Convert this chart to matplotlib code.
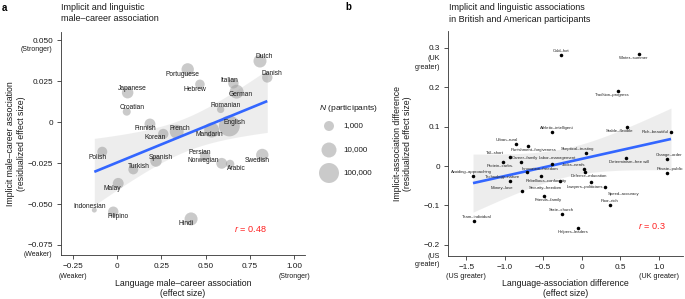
import numpy as np
import matplotlib
matplotlib.use("Agg")
import matplotlib.pyplot as plt

plt.rcParams['font.family'] = ['Liberation Sans', 'DejaVu Sans']
plt.rcParams['mathtext.fontset'] = 'custom'
plt.rcParams['mathtext.it'] = 'Liberation Sans:italic'
plt.rcParams['mathtext.rm'] = 'Liberation Sans'

# ---------------- Panel a data ----------------
languages = ['Dutch', 'Danish', 'Portuguese', 'Hebrew', 'Italian', 'German', 'Japanese',
             'Croatian', 'Romanian', 'English', 'Mandarin', 'French', 'Finnish', 'Korean',
             'Polish', 'Spanish', 'Turkish', 'Persian', 'Norwegian', 'Arabic', 'Swedish',
             'Malay', 'Indonesian', 'Filipino', 'Hindi']
lang_x = [0.807, 0.848, 0.399, 0.468, 0.657, 0.675, 0.060, 0.055, 0.585, 0.634, 0.534, 0.337,
          0.186, 0.261, -0.083, 0.220, 0.092, 0.497, 0.591, 0.638, 0.820, 0.007, -0.128,
          -0.021, 0.418]
lang_y = [0.0372, 0.0272, 0.0321, 0.0230, 0.0236, 0.0185, 0.0179, 0.0063, 0.0077, -0.0024,
          -0.0049, -0.0059, -0.0012, -0.0073, -0.0181, -0.0238, -0.0289, -0.0207, -0.0252,
          -0.0256, -0.0201, -0.0374, -0.0537, -0.0547, -0.0591]
lang_n = [4000, 1200, 3000, 800, 1200, 6000, 2000, 400, 300, 150000, 10000, 6000, 1500, 1200,
          1000, 2000, 1000, 1200, 1500, 500, 3000, 1500, 100, 1200, 4000]

a_xticks = [-0.25, 0.0, 0.25, 0.50, 0.75, 1.00]
a_xticklabels = ['\u22120.25', '0', '0.25', '0.50', '0.75', '1.00']
a_yticks = [-0.075, -0.050, -0.025, 0.0, 0.025, 0.050]
a_yticklabels = ['\u22120.075', '\u22120.050', '\u22120.025', '0', '0.025', '0.050']
legend_n = [1000, 10000, 100000]
legend_labels = ['1,000', '10,000', '100,000']
a_r_value = '0.48'

# ---------------- Panel b data ----------------
iat_names = ['Cold–hot', 'Winter–summer', 'Tradition–progress', 'Athletic–intelligent',
             'Stable–flexible', 'Rich–beautiful', 'Urban–rural', 'Punishment–forgiveness',
             'Skeptical–trusting', 'Tall–short', 'Career–family', 'Protein–carbs.',
             'Labor–management', 'Determinism–free will', 'Change–order', 'Private–public',
             'Jocks–nerds', 'Defense–education', 'Innovation–freedom', 'Avoiding–approaching',
             'Technology–nature', 'Rebellious–conformity', 'Security–freedom', 'Money–love',
             'Lawyers–politicians', 'Speed–accuracy', 'Friends–family', 'Poor–rich',
             'State–church', 'Team–individual', 'Helpers–leaders']
iat_x = [-0.273, 0.744, 0.467, -0.381, 0.588, 1.160, -0.853, -0.701, 0.056, -0.935, -0.792,
         -1.018, -0.386, 0.575, 1.112, 1.104, 0.034, 0.043, -0.706, -1.412, -0.935, -0.533,
         -0.282, -0.779, 0.118, 0.303, -0.486, 0.372, -0.252, -1.403, -0.044]
iat_y = [0.280, 0.285, 0.190, 0.085, 0.098, 0.086, 0.057, 0.051, 0.034, 0.024, 0.009, 0.010,
         0.005, 0.021, 0.019, -0.017, -0.008, -0.016, -0.014, -0.025, -0.038, -0.025, -0.039,
         -0.064, -0.041, -0.052, -0.076, -0.100, -0.122, -0.140, -0.157]

b_xticks = [-1.5, -1.0, -0.5, 0.0, 0.5, 1.0]
b_xticklabels = ['\u22121.5', '\u22121.0', '\u22120.5', '0', '0.5', '1.0']
b_yticks = [-0.2, -0.1, 0.0, 0.1, 0.2, 0.3]
b_yticklabels = ['\u22120.2', '\u22120.1', '0', '0.1', '0.2', '0.3']
b_r_value = '0.3'

# ---------------- styling (label offsets in pixels: right, down) ----------------
a_label_off = {
    'Dutch': (4, -5), 'Danish': (5, -4), 'Portuguese': (-5, 5), 'Hebrew': (-5, 5),
    'Italian': (-4, -3), 'German': (4, 3), 'Japanese': (5, -4), 'Croatian': (5, -4),
    'Romanian': (5, -4), 'English': (5, -3), 'Mandarin': (-2, 4), 'French': (3, -3),
    'Finnish': (-5, 5), 'Korean': (-8, 4), 'Polish': (-5, 6), 'Spanish': (5, -4),
    'Turkish': (5, -3), 'Persian': (-5, -3), 'Norwegian': (-18, -3), 'Arabic': (6, 5),
    'Swedish': (-5, 6), 'Malay': (-6, 5), 'Indonesian': (-5, -4), 'Filipino': (5, 5),
    'Hindi': (-5, 5)}
b_label_off = {
    'Cold–hot': (0, -4), 'Winter–summer': (-5, 4), 'Tradition–progress': (-5, 4),
    'Athletic–intelligent': (4, -4), 'Stable–flexible': (-7, 4), 'Rich–beautiful': (-16, 0),
    'Urban–rural': (-9, -4), 'Punishment–forgiveness': (6, 4), 'Skeptical–trusting': (-9, -4),
    'Tall–short': (-15, -4), 'Career–family': (4, -4), 'Protein–carbs.': (-3, 4),
    'Labor–management': (5, -6), 'Determinism–free will': (3, 4), 'Change–order': (2, -4),
    'Private–public': (3, -4), 'Jocks–nerds': (-11, -4), 'Defense–education': (4, 4),
    'Innovation–freedom': (13, -3), 'Avoiding–approaching': (-2, -4),
    'Technology–nature': (-7, -4), 'Rebellious–conformity': (6, 5),
    'Security–freedom': (-15, 7), 'Money–love': (-20, -3), 'Lawyers–politicians': (-6, 5),
    'Speed–accuracy': (19, 7), 'Friends–family': (4, 4), 'Poor–rich': (-1, -4),
    'State–church': (-1, -4), 'Team–individual': (3, -4), 'Helpers–leaders': (-5, 4)}

W, H = 685, 299
PX = 0.72  # points per pixel at dpi 100
TXT = '#1a1a1a'
GRID_C = '#333333'
BLUE = '#3366FF'
CIRC = '#a0a0a0'


def size_of(n):
    d_px = 10 + 5 * (np.log10(np.asarray(n, dtype=float)) - 3)
    return (d_px * PX) ** 2


def fit_band(x, y, t):
    x = np.asarray(x, float)
    y = np.asarray(y, float)
    n = len(x)
    b1, b0 = np.polyfit(x, y, 1)
    xs = np.linspace(x.min(), x.max(), 100)
    yh = b0 + b1 * xs
    s = np.sqrt(np.sum((y - (b0 + b1 * x)) ** 2) / (n - 2))
    sxx = np.sum((x - x.mean()) ** 2)
    se = s * np.sqrt(1.0 / n + (xs - x.mean()) ** 2 / sxx)
    return xs, yh, yh - t * se, yh + t * se


def style_axes(ax):
    for sp in ['top', 'right']:
        ax.spines[sp].set_visible(False)
    for sp in ['left', 'bottom']:
        ax.spines[sp].set_linewidth(0.6)
        ax.spines[sp].set_color(GRID_C)
    ax.tick_params(length=3.2, width=0.6, color=GRID_C, labelsize=5.9, labelcolor=TXT, pad=2.6)


fig = plt.figure(figsize=(W / 100, H / 100), dpi=100)

# ---------------- Panel a ----------------
axa = fig.add_axes([61 / W, 44 / H, 244 / W, 223 / H])
style_axes(axa)
axa.scatter(lang_x, lang_y, s=size_of(lang_n), color=CIRC, alpha=0.55, linewidths=0, zorder=2)
xs, yh, lo, hi = fit_band(lang_x, lang_y, 2.069)
axa.fill_between(xs, lo, hi, color='#999999', alpha=0.17, linewidth=0, zorder=3)
axa.plot(xs, yh, color=BLUE, lw=1.9, zorder=4, solid_capstyle='butt')
for name, x, y in zip(languages, lang_x, lang_y):
    dx, dy = a_label_off[name]
    axa.annotate(name, (x, y), xytext=(dx * PX, -dy * PX), textcoords='offset points',
                 ha='center', va='center', fontsize=4.8, color=TXT, zorder=5)
axa.set_xlim(-0.316, 1.061)
axa.set_ylim(-0.0811, 0.0549)
axa.set_xticks(a_xticks)
axa.set_xticklabels(a_xticklabels)
axa.set_yticks(a_yticks)
axa.set_yticklabels(a_yticklabels)
yt = axa.get_yaxis_transform()
xt = axa.get_xaxis_transform()
axa.annotate('(Stronger)', (0, a_yticks[-1]), xycoords=yt, xytext=(-8.3 * PX, -9 * PX),
             textcoords='offset points', ha='right', va='center', fontsize=5.0, color=TXT)
axa.annotate('(Weaker)', (0, a_yticks[0]), xycoords=yt, xytext=(-8.3 * PX, -10 * PX),
             textcoords='offset points', ha='right', va='center', fontsize=5.0, color=TXT)
axa.annotate('(Weaker)', (a_xticks[0], 0), xycoords=xt, xytext=(0, -21.5 * PX),
             textcoords='offset points', ha='center', va='center', fontsize=5.0, color=TXT)
axa.annotate('(Stronger)', (a_xticks[-1], 0), xycoords=xt, xytext=(0, -21.5 * PX),
             textcoords='offset points', ha='center', va='center', fontsize=5.0, color=TXT)
axa.text(0.775, 0.117, r'$r$ = ' + a_r_value, transform=axa.transAxes, color='#ff2020',
         fontsize=6.6, ha='center', va='center')

fig.text(183 / W, 1 - 288.5 / H, 'Language male–career association\n(effect size)',
         ha='center', va='center', fontsize=6.3, color=TXT, linespacing=1.25)
fig.text(16 / W, 1 - 143.5 / H, 'Implicit male–career association\n(residualized effect size)',
         ha='center', va='center', rotation=90, fontsize=6.3, color=TXT, linespacing=1.25)
fig.text(61 / W, 1 - 13 / H, 'Implicit and linguistic\nmale–career association',
         ha='left', va='center', fontsize=6.5, color=TXT, linespacing=1.3)
fig.text(2 / W, 1 - 8 / H, 'a', ha='left', va='center', fontsize=7, fontweight='bold')

# legend
lax = fig.add_axes([315 / W, 1 - 190 / H, 75 / W, 90 / H])
lax.set_xlim(0, 75)
lax.set_ylim(190, 100)
lax.axis('off')
leg_y = [126, 150, 173]
lax.scatter([14] * 3, leg_y, s=size_of(legend_n), color=CIRC, alpha=0.55, linewidths=0)
for yy, lab in zip(leg_y, legend_labels):
    lax.text(28, yy, lab, ha='left', va='center', fontsize=5.8, color=TXT)
lax.text(4, 108, r'$N$ (participants)', ha='left', va='center', fontsize=6.1, color=TXT)

# ---------------- Panel b ----------------
axb = fig.add_axes([448.3 / W, 43 / H, 234.7 / W, 225 / H])
style_axes(axb)
xs, yh, lo, hi = fit_band(iat_x, iat_y, 2.045)
axb.fill_between(xs, lo, hi, color='#999999', alpha=0.17, linewidth=0, zorder=1)
axb.plot(xs, yh, color=BLUE, lw=1.9, zorder=2, solid_capstyle='butt')
axb.scatter(iat_x, iat_y, s=6.5, color='black', linewidths=0, zorder=3)
for name, x, y in zip(iat_names, iat_x, iat_y):
    dx, dy = b_label_off[name]
    axb.annotate(name, (x, y), xytext=(dx * PX, -dy * PX), textcoords='offset points',
                 ha='center', va='center', fontsize=3.1, color='#222222', zorder=4)
axb.set_xlim(-1.733, 1.316)
axb.set_ylim(-0.228, 0.342)
axb.set_xticks(b_xticks)
axb.set_xticklabels(b_xticklabels)
axb.set_yticks(b_yticks)
axb.set_yticklabels(b_yticklabels)
yt = axb.get_yaxis_transform()
xt = axb.get_xaxis_transform()
axb.annotate('(UK\ngreater)', (0, b_yticks[-1]), xycoords=yt, xytext=(-8.3 * PX, -15.5 * PX),
             textcoords='offset points', ha='right', va='center', fontsize=5.2, color=TXT,
             multialignment='right', linespacing=1.35)
axb.annotate('(US\ngreater)', (0, b_yticks[0]), xycoords=yt, xytext=(-8.3 * PX, -15.5 * PX),
             textcoords='offset points', ha='right', va='center', fontsize=5.2, color=TXT,
             multialignment='right', linespacing=1.35)
axb.annotate('(US greater)', (b_xticks[0], 0), xycoords=xt, xytext=(0, -21 * PX),
             textcoords='offset points', ha='center', va='center', fontsize=5.2, color=TXT)
axb.annotate('(UK greater)', (b_xticks[-1], 0), xycoords=xt, xytext=(0, -21 * PX),
             textcoords='offset points', ha='center', va='center', fontsize=5.2, color=TXT)
axb.text(0.867, 0.133, r'$r$ = ' + b_r_value, transform=axb.transAxes, color='#ff2020',
         fontsize=6.6, ha='center', va='center')

fig.text(565.5 / W, 1 - 288.5 / H, 'Language-association difference\n(effect size)',
         ha='center', va='center', fontsize=6.3, color=TXT, linespacing=1.25)
fig.text(402.5 / W, 1 - 143.5 / H, 'Implicit-association difference\n(residualized effect size)',
         ha='center', va='center', rotation=90, fontsize=6.3, color=TXT, linespacing=1.25)
fig.text(449 / W, 1 - 13.5 / H, 'Implicit and linguistic associations\nin British and American participants',
         ha='left', va='center', fontsize=6.5, color=TXT, linespacing=1.3)
fig.text(345 / W, 1 - 7 / H, 'b', ha='left', va='center', fontsize=7, fontweight='bold')

fig.savefig('out.png', dpi=100)
